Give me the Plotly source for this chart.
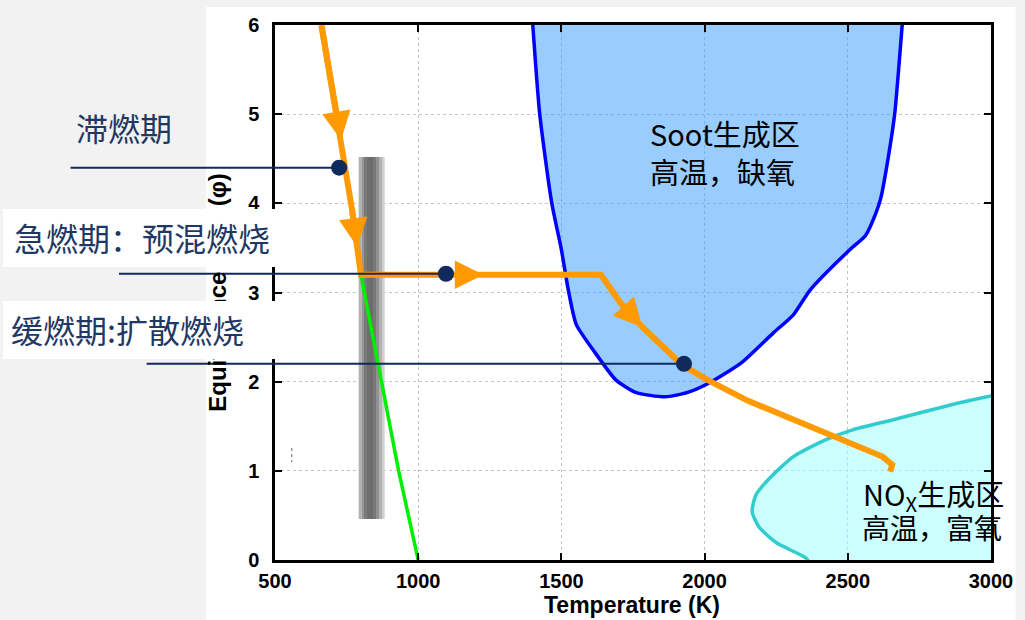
import plotly.graph_objects as go

# ---------------- data ----------------
# Mixture state path through the combustion process (temperature K, equivalence ratio)
path_T = [662, 731, 769, 800, 1638, 1707, 1783, 1921, 2010, 2148, 2310, 2424, 2541, 2621, 2655, 2648]
path_phi = [6.0, 4.71, 3.93, 3.2, 3.2, 2.88, 2.61, 2.19, 2.02, 1.79, 1.57, 1.42, 1.27, 1.16, 1.07, 0.99]

# Soot formation region boundary (closed above the plot top)
soot_T = [1393, 1400, 1424, 1466, 1500, 1524, 1552, 1610, 1690, 1759, 1862, 1941, 2024,
          2128, 2241, 2310, 2369, 2507, 2562, 2598, 2616, 2640, 2664, 2690, 2698]
soot_phi = [6.3, 6.0, 5.01, 4.01, 3.48, 3.03, 2.64, 2.36, 2.02, 1.88, 1.83, 1.88, 2.00,
            2.21, 2.55, 2.75, 3.03, 3.48, 3.64, 3.89, 4.07, 4.49, 5.01, 6.0, 6.3]

# NOx formation region boundary (closed outside the right / bottom edges)
nox_T = [3060, 3000, 2886, 2655, 2517, 2424, 2310, 2231, 2179, 2166, 2190, 2252, 2355, 2380, 3060]
nox_phi = [1.86, 1.84, 1.76, 1.57, 1.46, 1.35, 1.16, 0.93, 0.73, 0.54, 0.37, 0.19, 0.02, -0.1, -0.1]

# Lean branch below the ignition point
green_T = [800, 869, 931, 1000]
green_phi = [3.2, 2.02, 1.01, 0.0]

# Ignition band and its horizontal shading profile (grey level 0-255)
band_T = [792, 884]
band_phi = [0.46, 4.52]
band_shade = [180, 150, 122, 110, 108, 120, 146, 178, 208]

# Combustion stages marked on the path
stage_labels = ["滞燃期", "急燃期：预混燃烧", "缓燃期:扩散燃烧"]
stage_T = [724, 1097, 1928]
stage_phi = [4.40, 3.21, 2.20]

# Arrows along the path: (segment index, tail fraction, tip fraction)
arrow_pos = [(0, 0.0, 1.0), (2, 0.0, 0.57), (3, 0.42, 0.51), (5, 0.0, 1.0)]

x_ticks = [500, 1000, 1500, 2000, 2500, 3000]
y_ticks = [0, 1, 2, 3, 4, 5, 6]

# ---------------- layout helpers ----------------
W, H = 1025, 620
ML, MR, MT, MB = 275, 25, 25, 60
PW, PH = W - ML - MR, H - MT - MB
X_MIN, X_MAX = 500, 3000


def px_x(px):
    return (px - ML) / PW


def px_y(py):
    return (H - MB - py) / PH


def data_to_paper_x(t):
    return (t - X_MIN) / (X_MAX - X_MIN)


ORANGE = "#ff9a00"
NAVY = "#102a5c"
LABEL = "#1f3864"
CJK = "Noto Sans CJK SC"
AX_FONT = "Liberation Sans, Arial"

fig = go.Figure()

# ignition band (grey gradient)
n = len(band_shade)
band_edges = [band_T[0] + i * (band_T[1] - band_T[0]) / n for i in range(n + 1)]
fig.add_trace(go.Heatmap(
    x=band_edges, y=band_phi, z=[band_shade],
    colorscale=[[0, "#000000"], [1, "#ffffff"]], zmin=0, zmax=255,
    showscale=False, zsmooth=False, hoverinfo="skip",
))

# soot region
fig.add_trace(go.Scatter(
    x=soot_T, y=soot_phi, mode="lines", fill="toself",
    fillcolor="rgba(51,153,255,0.5)", line=dict(color="#0000ff", width=3.5, shape="spline", smoothing=0.6),
    hoverinfo="skip",
))

# NOx region
fig.add_trace(go.Scatter(
    x=nox_T, y=nox_phi, mode="lines", fill="toself",
    fillcolor="rgba(153,255,255,0.5)", line=dict(color="#33cccc", width=3.5, shape="spline", smoothing=0.6),
    hoverinfo="skip",
))

# lean branch
fig.add_trace(go.Scatter(
    x=green_T, y=green_phi, mode="lines",
    line=dict(color="#00ee00", width=3.5), hoverinfo="skip",
))

# mixture path
fig.add_trace(go.Scatter(
    x=path_T, y=path_phi, mode="lines",
    line=dict(color=ORANGE, width=6), hoverinfo="skip",
))

# stage markers
fig.add_trace(go.Scatter(
    x=stage_T, y=stage_phi, mode="markers",
    marker=dict(color=NAVY, size=16), hoverinfo="skip",
))

# leader lines from the stage labels to the markers
line_start_px = [68, 117, 145]
shapes = [
    # white panel behind the chart
    dict(type="rect", xref="paper", yref="paper",
         x0=px_x(205), x1=px_x(W), y0=px_y(H), y1=px_y(7),
         fillcolor="white", line=dict(width=0), layer="below"),
    # small dotted tick mark left of the axis
    dict(type="line", xref="paper", yref="paper",
         x0=px_x(292), x1=px_x(292), y0=px_y(448), y1=px_y(462),
         line=dict(color="#666666", width=1, dash="dot"), layer="above"),
]
for xs, t, p in zip(line_start_px, stage_T, stage_phi):
    shapes.append(dict(type="line", xref="paper", yref="y",
                       x0=px_x(xs), x1=data_to_paper_x(t), y0=p, y1=p,
                       line=dict(color=NAVY, width=2), layer="above"))

annotations = []

# direction arrows on the path
for seg, f_tail, f_tip in arrow_pos:
    t0, p0 = path_T[seg], path_phi[seg]
    t1, p1 = path_T[seg + 1], path_phi[seg + 1]
    annotations.append(dict(
        x=t0 + f_tip * (t1 - t0), y=p0 + f_tip * (p1 - p0),
        ax=t0 + f_tail * (t1 - t0), ay=p0 + f_tail * (p1 - p0),
        xref="x", yref="y", axref="x", ayref="y",
        text="", showarrow=True, arrowhead=2, arrowsize=0.95, arrowwidth=6,
        arrowcolor=ORANGE, standoff=0, startstandoff=0,
    ))

# axis titles
annotations.append(dict(
    text="Equivalence ratio (φ)", textangle=-90, xref="paper", yref="paper",
    x=px_x(216), y=px_y(292), xanchor="center", yanchor="middle", showarrow=False,
    font=dict(family=AX_FONT, size=24, color="black", weight="bold"),
))
annotations.append(dict(
    text="Temperature (K)", xref="paper", yref="paper",
    x=px_x(636), y=px_y(605), xanchor="center", yanchor="middle", showarrow=False,
    font=dict(family=AX_FONT, size=23, color="black", weight="bold"),
))

# white boxes behind two of the stage labels
for top in [209, 301]:
    annotations.append(dict(
        text=" ", xref="paper", yref="paper", x=px_x(0), y=px_y(top),
        xanchor="left", yanchor="top", width=300, height=58,
        bgcolor="white", borderpad=0, borderwidth=0, showarrow=False,
    ))

# stage labels
label_x_px = [71, 9, 6]
label_y_px = [127, 237, 329]
for txt, lx, ly in zip(stage_labels, label_x_px, label_y_px):
    annotations.append(dict(
        text=txt, xref="paper", yref="paper", x=px_x(lx), y=px_y(ly),
        xanchor="left", yanchor="middle", showarrow=False,
        font=dict(family=CJK, size=32, color=LABEL),
    ))

# region labels
annotations.append(dict(
    text="Soot生成区<br>高温，缺氧", xref="paper", yref="paper",
    x=px_x(653), y=px_y(152), xanchor="left", yanchor="middle", align="left",
    showarrow=False, font=dict(family=CJK, size=29, color="black"),
))
annotations.append(dict(
    text="NO<sub>X</sub>生成区", xref="paper", yref="paper",
    x=px_x(868), y=px_y(495), xanchor="left", yanchor="middle", align="left",
    showarrow=False, font=dict(family=CJK, size=29, color="black"),
))
annotations.append(dict(
    text="高温，富氧", xref="paper", yref="paper",
    x=px_x(867), y=px_y(527), xanchor="left", yanchor="middle", align="left",
    showarrow=False, font=dict(family=CJK, size=28, color="black"),
))

axis_common = dict(
    showline=True, linecolor="black", linewidth=2.5, mirror="ticks",
    ticks="inside", ticklen=7, tickwidth=2, tickcolor="black",
    showgrid=True, gridcolor="#c4c4c4", gridwidth=1, griddash="dot",
    zeroline=False, tickfont=dict(family=AX_FONT, size=20, color="black", weight="bold"),
)

fig.update_layout(
    width=W, height=H,
    margin=dict(l=ML, r=MR, t=MT, b=MB),
    paper_bgcolor="#f2f2f2", plot_bgcolor="white",
    showlegend=False,
    xaxis=dict(range=[X_MIN, X_MAX], tickvals=x_ticks, ticklabelstandoff=1, **axis_common),
    yaxis=dict(range=[0, 6], tickvals=y_ticks, ticklabelstandoff=9, **axis_common),
    shapes=shapes, annotations=annotations,
)

fig.write_html("out.html")
